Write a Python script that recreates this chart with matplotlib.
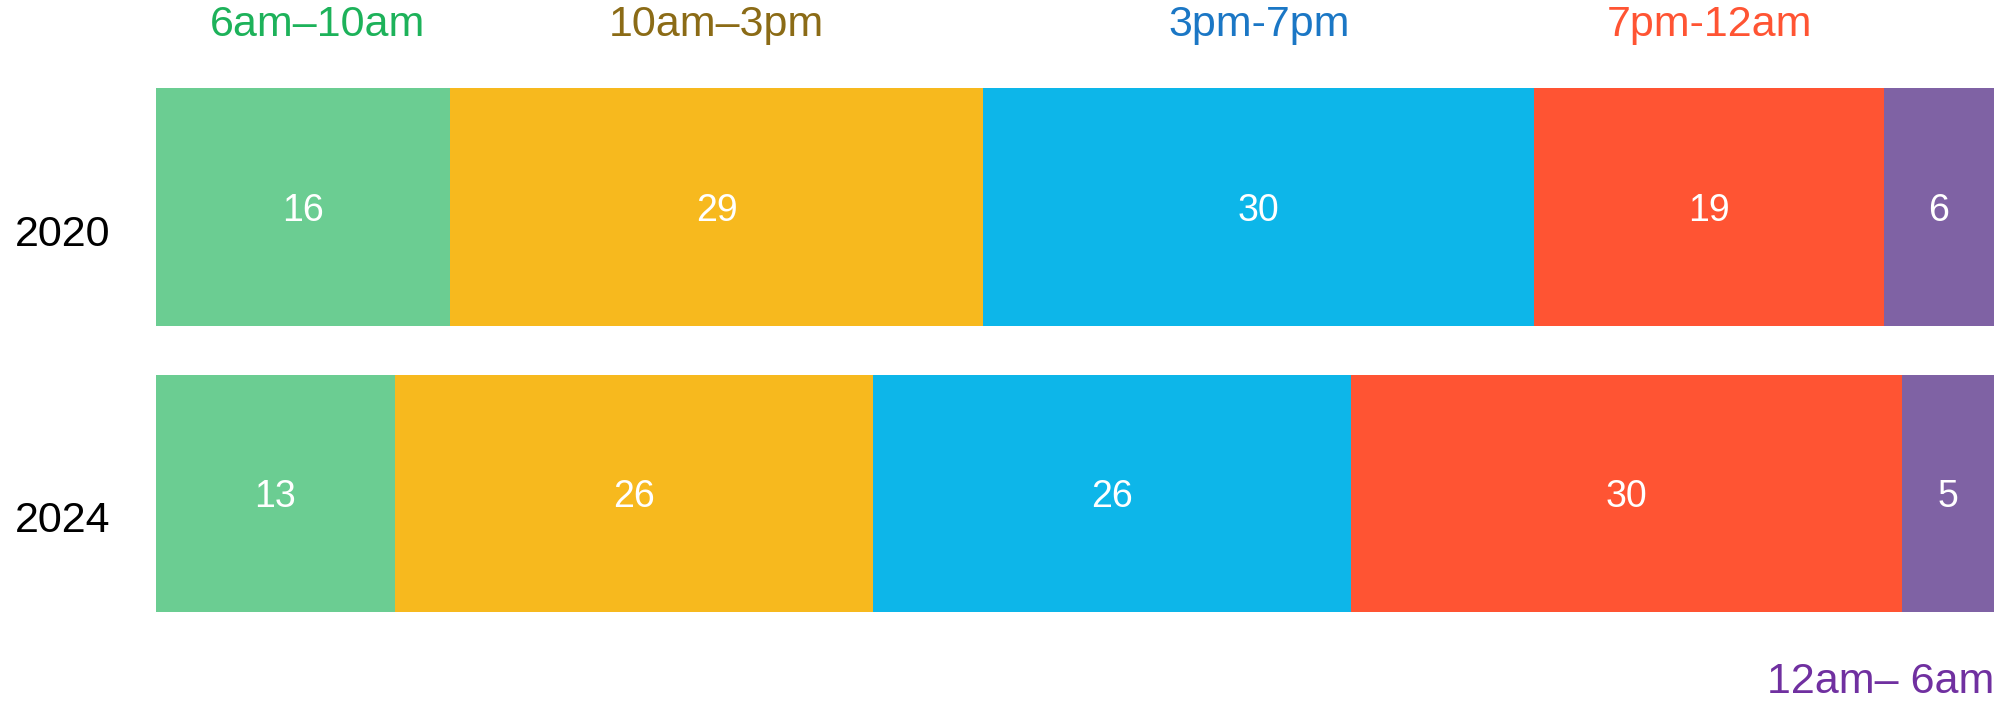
"""Share of activity by time of day, 2020 vs 2024, as 100% stacked bars."""

import matplotlib

matplotlib.use("Agg")
import matplotlib.pyplot as plt
import matplotlib.transforms as mtransforms
import numpy as np

plt.rcParams["font.family"] = ["Liberation Sans", "DejaVu Sans"]

years = ["2020", "2024"]
slots = ["6am–10am", "10am–3pm", "3pm-7pm", "7pm-12am", "12am– 6am"]
share_2020 = [16, 29, 30, 19, 6]
share_2024 = [13, 26, 26, 30, 5]

bar_colors = ["#6bcd92", "#f7b91e", "#0db6e9", "#ff5433", "#7f62a4"]
label_colors = ["#1db25a", "#8b6b16", "#1b77c5", "#ff5433", "#7030a0"]


def main() -> None:
    fig = plt.figure(figsize=(19.98, 7.06), dpi=100)
    ax = fig.add_axes([0.078, 0.133, 0.920, 0.742])

    values = np.array([share_2020, share_2024], dtype=float)
    rows = np.arange(len(years))
    left = np.zeros(len(years))
    for idx, slot in enumerate(slots):
        widths = values[:, idx]
        ax.barh(rows, widths, left=left, height=0.83, color=bar_colors[idx],
                edgecolor="none")
        for row, width, start in zip(rows, widths, left):
            ax.text(start + width / 2, row, f"{width:.0f}", ha="center",
                    va="center_baseline", color="white", fontsize=27)
        left = left + widths

    ax.set_xlim(0, values.sum(axis=1).max())
    ax.set_ylim(len(years) - 1 + 0.415, -0.415)
    ax.set_yticks(rows, labels=years, fontsize=31)
    ax.tick_params(axis="y", length=0, pad=33)
    shift = mtransforms.ScaledTranslation(0, -0.23, fig.dpi_scale_trans)
    for label in ax.get_yticklabels():
        label.set_transform(label.get_transform() + shift)
    ax.set_xticks([])
    for spine in ax.spines.values():
        spine.set_visible(False)

    # slot names sit above the 2020 segments, the last one under the chart
    starts_2020 = np.concatenate([[0], np.cumsum(share_2020)[:-1]])
    centers_2020 = starts_2020 + np.array(share_2020) / 2
    header = mtransforms.blended_transform_factory(ax.transData, fig.transFigure)
    for idx in range(len(slots) - 1):
        nudge = 0.8 if idx == 0 else 0.0
        ax.text(centers_2020[idx] + nudge, 0.949, slots[idx], transform=header,
                ha="center", va="baseline", fontsize=31, color=label_colors[idx])
    fig.text(0.998, 0.0184, slots[-1], ha="right", va="baseline", fontsize=31,
             color=label_colors[-1])

    fig.savefig("out.png", dpi=100, facecolor="white")
    plt.close(fig)


if __name__ == "__main__":
    main()
